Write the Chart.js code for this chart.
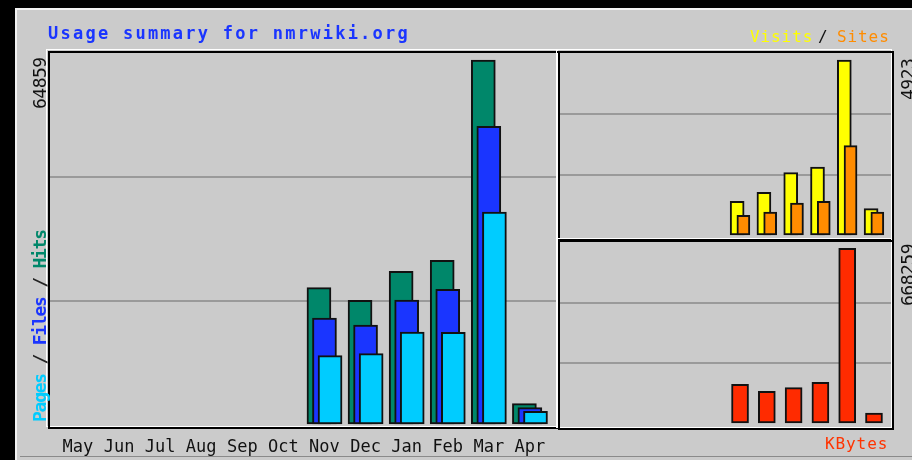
<!DOCTYPE html>
<html><head><meta charset="utf-8">
<script src="https://cdn.jsdelivr.net/npm/chart.js@4.4.1/dist/chart.umd.min.js"></script>
<style>
html,body{margin:0;padding:0;background:#000;}
#page{position:relative;width:912px;height:460px;overflow:hidden;background:#000;}
.abs{position:absolute;}
#bg{left:15px;top:8px;width:897px;height:452px;background:#cbcbcb;box-shadow:inset 2px 2px 0 #f2f2f2;}
#bottomline{left:20px;top:456px;width:892px;height:1px;background:#8a8a8a;}
canvas{position:absolute;}
.mono{position:absolute;font-family:"DejaVu Sans Mono",monospace;white-space:nowrap;line-height:1;}
.up{transform-origin:0 0;transform:rotate(-90deg);}
.fb{position:absolute;box-sizing:border-box;border:2px solid #000;}
.fw{position:absolute;box-sizing:border-box;border:1.5px solid #fff;}
</style></head>
<body>
<div id="page">
  <div id="bg" class="abs"></div>
  <div id="bottomline" class="abs"></div>

  <canvas id="main" width="506" height="412" style="left:50px;top:53px;"></canvas>
  <canvas id="vis" width="331" height="183" style="left:560px;top:53px;"></canvas>
  <canvas id="kb" width="331" height="182" style="left:560px;top:242px;"></canvas>

  <!-- panel frames: black box with a white box offset up-left -->
  <div class="fw" style="left:46px;top:49px;width:512px;height:378px;"></div>
  <div class="fb" style="left:48px;top:51px;width:512px;height:378px;"></div>
  <div class="fw" style="left:556px;top:49px;width:336px;height:190px;"></div>
  <div class="fb" style="left:558px;top:51px;width:336px;height:190px;"></div>
  <div class="fw" style="left:556px;top:238px;width:336px;height:190px;"></div>
  <div class="fb" style="left:558px;top:240px;width:336px;height:190px;"></div>

  <div class="mono" id="title" style="left:48px;top:25px;font-size:17px;font-weight:bold;letter-spacing:2.25px;color:#1a35ff;">Usage summary for nmrwiki.org</div>

  <div class="mono" style="left:750px;top:29px;font-size:16px;letter-spacing:0.9px;color:#ffff00;">Visits</div>
  <div class="mono" style="left:818px;top:29px;font-size:16px;color:#111;">/</div>
  <div class="mono" style="left:837px;top:29px;font-size:16px;letter-spacing:0.9px;color:#ff8c00;">Sites</div>

  <div class="mono" style="left:825px;top:436px;font-size:16px;letter-spacing:0.9px;color:#ff3300;">KBytes</div>

  <div class="mono up" id="lblHits" style="left:31px;top:108.5px;font-size:18px;letter-spacing:-0.5px;color:#111;"></div>
  <div class="mono up" id="lblVis" style="left:899px;top:100px;font-size:18px;letter-spacing:-0.5px;color:#111;"></div>
  <div class="mono up" id="lblKb" style="left:899px;top:305.5px;font-size:18px;letter-spacing:-0.5px;color:#111;"></div>

  <div class="mono up" style="left:31px;top:422px;font-size:18px;font-weight:bold;letter-spacing:-1.25px;"><span style="color:#00ccff">Pages</span><span style="color:#222"> / </span><span style="color:#1a35ff">Files</span><span style="color:#222"> / </span><span style="color:#00876a">Hits</span></div>
</div>

<script>
// ---- data ----
const months = ['May','Jun','Jul','Aug','Sep','Oct','Nov','Dec','Jan','Feb','Mar','Apr'];
const hits   = [0,0,0,0,0,0,24398,22159,27312,29266,64859,3785];
const files  = [0,0,0,0,0,0,19013,17770,22212,24113,53078,3074];
const pages  = [0,0,0,0,0,0,12314,12670,16526,16472,37850,2434];
const visits = [0,0,0,0,0,0,971,1222,1771,1930,4923,764];
const sites  = [0,0,0,0,0,0,579,671,923,971,2526,671];
const kbytes = [0,0,0,0,0,0,151000,124370,138062,158603,668259,41837];

// axis ranges
const hitsAxisMax = 66102;
const visitAxisMax = 5119;
const kbAxisMax = 692220;
const xMinMain = -0.68, xMinSide = -0.72, xMax = 11.635;

// colours
const C = {hits:'#00876a', files:'#1a35ff', pages:'#00ccff', visits:'#ffff00', sites:'#ff8c00', kbytes:'#ff2b00'};

document.getElementById('lblHits').textContent = String(Math.max(...hits));
document.getElementById('lblVis').textContent = String(Math.max(...visits));
document.getElementById('lblKb').textContent = String(Math.max(...kbytes));

const pts = (arr, off) => arr.map((v, i) => ({x: i + off, y: v}));

function bar(label, arr, off, color, thick, order) {
  return {label, data: pts(arr, off), backgroundColor: color, borderColor: '#111',
          borderWidth: 2, borderSkipped: false, barThickness: thick, grouped: false, order};
}

function yScale(max) {
  return {
    type: 'linear', min: 0, max: max, display: true,
    afterBuildTicks: s => { s.ticks = [0, max/3, 2*max/3, max].map(v => ({value: v})); },
    ticks: {display: false},
    border: {display: false},
    grid: {drawTicks: false, lineWidth: 2,
           color: c => (c.index === 1 || c.index === 2) ? '#9a9a9a' : 'rgba(0,0,0,0)'}
  };
}

const common = {
  responsive: false, animation: false, devicePixelRatio: 1, events: [],
  layout: {padding: 0},
  plugins: {legend: {display: false}, tooltip: {enabled: false}}
};

new Chart(document.getElementById('main'), {
  type: 'bar',
  data: {datasets: [
    bar('Hits', hits, -0.134, C.hits, 24, 3),
    bar('Files', files, 0, C.files, 24, 2),
    bar('Pages', pages, 0.136, C.pages, 24, 1)
  ]},
  options: Object.assign({}, common, {
    scales: {
      x: {type: 'linear', min: xMinMain, max: xMax, offset: false, display: true,
          afterBuildTicks: s => { s.ticks = months.map((m, i) => ({value: i})); },
          afterFit: s => { s.height = 40; s.paddingLeft = 0; s.paddingRight = 0; },
          ticks: {callback: v => months[v], autoSkip: false, maxRotation: 0, padding: 13,
                  color: '#111', font: {family: 'DejaVu Sans Mono', size: 17, lineHeight: '20px'}},
          grid: {display: false, drawTicks: false}, border: {display: false}},
      y: yScale(hitsAxisMax)
    }
  })
});

new Chart(document.getElementById('vis'), {
  type: 'bar',
  data: {datasets: [
    bar('Visits', visits, -0.108, C.visits, 14, 2),
    bar('Sites', sites, 0.125, C.sites, 13, 1)
  ]},
  options: Object.assign({}, common, {
    scales: {
      x: {type: 'linear', min: xMinSide, max: xMax, offset: false, display: false},
      y: yScale(visitAxisMax)
    }
  })
});

new Chart(document.getElementById('kb'), {
  type: 'bar',
  data: {datasets: [
    bar('KBytes', kbytes, 0, C.kbytes, 17, 1)
  ]},
  options: Object.assign({}, common, {
    scales: {
      x: {type: 'linear', min: xMinSide, max: xMax, offset: false, display: false},
      y: yScale(kbAxisMax)
    }
  })
});
</script>
</body></html>
